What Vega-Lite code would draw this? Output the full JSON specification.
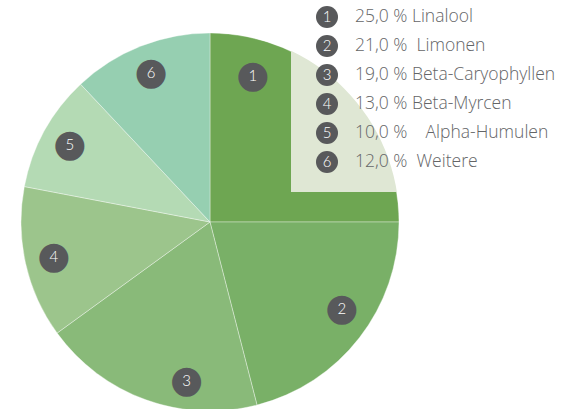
{
  "$schema": "https://vega.github.io/schema/vega-lite/v6.json",
  "width": 575,
  "height": 409,
  "autosize": {"type": "none"},
  "padding": 0,
  "background": "white",
  "config": {"view": {"stroke": null}},
  "datasets": {
    "pie": [
      {"num": "1", "name": "Linalool", "value": 25, "label": "25,0 % Linalool"},
      {"num": "2", "name": "Limonen", "value": 21, "label": "21,0 %\u00a0 Limonen"},
      {"num": "3", "name": "Beta-Caryophyllen", "value": 19, "label": "19,0 %\u00a0Beta-Caryophyllen"},
      {"num": "4", "name": "Beta-Myrcen", "value": 13, "label": "13,0 % Beta-Myrcen"},
      {"num": "5", "name": "Alpha-Humulen", "value": 10, "label": "10,0 %\u00a0\u00a0\u00a0 Alpha-Humulen"},
      {"num": "6", "name": "Weitere", "value": 12, "label": "12,0 %\u00a0 Weitere"}
    ]
  },
  "layer": [
    {
      "data": {"name": "pie"},
      "mark": {"type": "arc", "x": 210, "y": 222, "radius": 189, "stroke": "#ffffff", "strokeWidth": 0.6, "strokeOpacity": 0.6},
      "encoding": {
        "theta": {"field": "value", "type": "quantitative", "stack": true},
        "order": {"field": "num", "type": "ordinal"},
        "color": {"field": "num", "type": "nominal", "legend": null,
          "scale": {"domain": ["1","2","3","4","5","6"], "range": ["#6ea652","#79b067","#89ba79","#9cc58c","#b4dab4","#96cfb1"]}}
      }
    },
    {
      "data": {"values": [{}]},
      "mark": {"type": "rect", "x": 291, "x2": 402, "y": 30, "y2": 192, "fill": "#dfe7d4"},
      "encoding": {}
    },
    {
      "data": {"values": [{}]},
      "mark": {"type": "arc", "x": 210, "y": 222, "theta": 0, "theta2": 1.5708, "radius": 189.3, "radius2": 280, "fill": "#ffffff"},
      "encoding": {}
    },
    {
      "data": {"name": "pie"},
      "encoding": {
        "theta": {"field": "value", "type": "quantitative", "stack": true},
        "order": {"field": "num", "type": "ordinal"}
      },
      "layer": [
        {
          "mark": {"type": "text", "x": 210, "y": 222, "radius": 152, "thetaOffset": -0.499, "font": "DejaVu Sans", "fontSize": 38, "baseline": "middle", "align": "center", "color": "#58595b"},
          "encoding": {"text": {"condition": {"test": "datum.num == '1'", "value": "●"}, "value": ""}}
        },
        {
          "mark": {"type": "text", "x": 210, "y": 222, "radius": 152, "thetaOffset": -0.499, "font": "Lato", "fontWeight": 300, "fontSize": 15, "baseline": "middle", "align": "center", "color": "#ffffff"},
          "encoding": {"text": {"condition": {"test": "datum.num == '1'", "field": "num", "type": "nominal"}, "value": ""}}
        },
        {
          "mark": {"type": "text", "x": 210, "y": 222, "radius": 158, "thetaOffset": -0.077, "font": "DejaVu Sans", "fontSize": 38, "baseline": "middle", "align": "center", "color": "#58595b"},
          "encoding": {"text": {"condition": {"test": "datum.num == '2'", "value": "●"}, "value": ""}}
        },
        {
          "mark": {"type": "text", "x": 210, "y": 222, "radius": 158, "thetaOffset": -0.077, "font": "Lato", "fontWeight": 300, "fontSize": 15, "baseline": "middle", "align": "center", "color": "#ffffff"},
          "encoding": {"text": {"condition": {"test": "datum.num == '2'", "field": "num", "type": "nominal"}, "value": ""}}
        },
        {
          "mark": {"type": "text", "x": 210, "y": 222, "radius": 160.6, "thetaOffset": -0.2, "font": "DejaVu Sans", "fontSize": 38, "baseline": "middle", "align": "center", "color": "#58595b"},
          "encoding": {"text": {"condition": {"test": "datum.num == '3'", "value": "●"}, "value": ""}}
        },
        {
          "mark": {"type": "text", "x": 210, "y": 222, "radius": 160.6, "thetaOffset": -0.2, "font": "Lato", "fontWeight": 300, "fontSize": 15, "baseline": "middle", "align": "center", "color": "#ffffff"},
          "encoding": {"text": {"condition": {"test": "datum.num == '3'", "field": "num", "type": "nominal"}, "value": ""}}
        },
        {
          "mark": {"type": "text", "x": 210, "y": 222, "radius": 160, "font": "DejaVu Sans", "fontSize": 38, "baseline": "middle", "align": "center", "color": "#58595b"},
          "encoding": {"text": {"condition": {"test": "datum.num >= '4'", "value": "●"}, "value": ""}}
        },
        {
          "mark": {"type": "text", "x": 210, "y": 222, "radius": 160, "font": "Lato", "fontWeight": 300, "fontSize": 15, "baseline": "middle", "align": "center", "color": "#ffffff"},
          "encoding": {"text": {"condition": {"test": "datum.num >= '4'", "field": "num", "type": "nominal"}, "value": ""}}
        }
      ]
    },
    {
      "data": {"name": "pie"},
      "mark": {"type": "point", "x": 327, "filled": true, "size": 484, "shape": "circle", "color": "#58595b", "opacity": 1},
      "encoding": {
        "y": {"field": "num", "type": "ordinal", "axis": null, "scale": {"type": "point", "range": [17, 162], "padding": 0}}
      }
    },
    {
      "data": {"name": "pie"},
      "mark": {"type": "text", "x": 327, "font": "Lato", "fontWeight": 300, "fontSize": 15, "baseline": "middle", "align": "center", "color": "#ffffff"},
      "encoding": {
        "y": {"field": "num", "type": "ordinal", "axis": null, "scale": {"type": "point", "range": [17, 162], "padding": 0}},
        "text": {"field": "num"}
      }
    },
    {
      "data": {"name": "pie"},
      "mark": {"type": "text", "x": 355, "font": "Open Sans", "fontWeight": 300, "fontSize": 17.5, "baseline": "middle", "align": "left", "color": "#646567"},
      "encoding": {
        "y": {"field": "num", "type": "ordinal", "axis": null, "scale": {"type": "point", "range": [17, 162], "padding": 0}},
        "text": {"field": "label"}
      }
    }
  ]
}
